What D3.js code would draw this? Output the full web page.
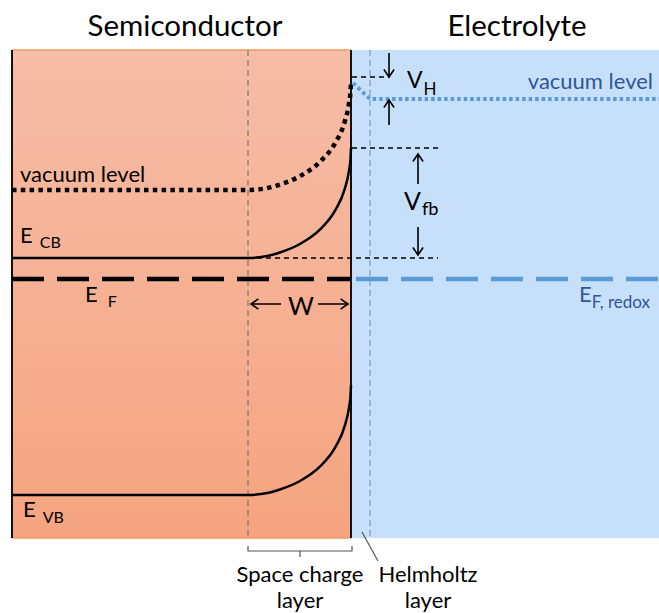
<!DOCTYPE html>
<html><head><meta charset="utf-8">
<script src="https://cdn.jsdelivr.net/npm/d3@7"></script>
<style>
html,body{margin:0;padding:0;background:#fff;}
svg{display:block;font-family:Lato,"Open Sans",sans-serif;}
</style></head>
<body>
<svg id="chart" width="659" height="613"></svg>
<script>
// ---------- data (energies in arbitrary units, distances in arbitrary units) ----------
const regions = ["Semiconductor", "Electrolyte"];
const regionExtent = [[-3.39, 0], [0, 3.08]];        // distance from interface
const depletionWidth = 1.03;                           // W
const helmholtzWidth = 0.19;
const energyRange = [0, 4.88];

const bandNames = ["vacuum", "CB", "VB"];
const bandBulk = [3.48, 2.80, 0.43];
const bandSurface = [4.57, 3.90, 1.53];

const fermiLevel = 2.59;
const electrolyteVacuum = 4.39;
const vhTop = 4.61;

// band-bending shape: fraction of bend vs fraction of W
const bendT    = [0, 0.2, 0.31, 0.5, 0.7, 0.845, 0.94, 0.98, 0.995, 1];
const bendFrac = [0, 0.02, 0.05, 0.125, 0.26, 0.43, 0.63, 0.79, 0.9, 1];

// ---------- scales ----------
const svg = d3.select("#chart");
const x = d3.scaleLinear().domain([-3.39, 3.08]).range([12, 659]);
const y = d3.scaleLinear().domain(energyRange).range([538, 50]);
const x0 = x(0);

// ---------- backgrounds ----------
const defs = svg.append("defs");
const grad = defs.append("linearGradient").attr("id","semi").attr("x1",0).attr("y1",0).attr("x2",0).attr("y2",1);
grad.append("stop").attr("offset","0%").attr("stop-color","#f6bda7");
grad.append("stop").attr("offset","100%").attr("stop-color","#f5a480");

svg.append("rect").attr("x", x(regionExtent[1][0])).attr("y", y(energyRange[1]))
  .attr("width", x(regionExtent[1][1]) - x(regionExtent[1][0])).attr("height", y(energyRange[0]) - y(energyRange[1]))
  .attr("fill", "#c6e0fb");
svg.append("rect").attr("x", x(regionExtent[0][0])).attr("y", y(energyRange[1]))
  .attr("width", x(regionExtent[0][1]) - x(regionExtent[0][0])).attr("height", y(energyRange[0]) - y(energyRange[1]))
  .attr("fill", "url(#semi)");
// orange top & bottom edges
[energyRange[1], energyRange[0]].forEach(e => {
  svg.append("line").attr("x1", x(regionExtent[0][0])).attr("x2", x0)
    .attr("y1", y(e)).attr("y2", y(e)).attr("stroke", "#f09a62").attr("stroke-width", 1.5);
});

// ---------- vertical guides ----------
svg.append("line").attr("x1", x(-depletionWidth)).attr("x2", x(-depletionWidth))
  .attr("y1", y(energyRange[1])).attr("y2", y(energyRange[0]))
  .attr("stroke", "#6a6a6a").attr("stroke-width", 1).attr("stroke-dasharray", "6 4");
svg.append("line").attr("x1", x(helmholtzWidth)).attr("x2", x(helmholtzWidth))
  .attr("y1", y(energyRange[1])).attr("y2", y(energyRange[0]))
  .attr("stroke", "#7f9cc0").attr("stroke-width", 1.2).attr("stroke-dasharray", "6 4");

// semiconductor borders
[regionExtent[0][0], 0].forEach(d => {
  svg.append("line").attr("x1", x(d)).attr("x2", x(d))
    .attr("y1", y(energyRange[1])).attr("y2", y(energyRange[0]))
    .attr("stroke", "#111").attr("stroke-width", 2);
});

// ---------- bands ----------
function bandPoints(i) {
  const pts = [[x(regionExtent[0][0]), y(bandBulk[i])]];
  bendT.forEach((t, k) => {
    const xd = -depletionWidth + t * depletionWidth;
    const e = bandBulk[i] + bendFrac[k] * (bandSurface[i] - bandBulk[i]);
    pts.push([x(xd), y(e)]);
  });
  return pts;
}
const line = d3.line().curve(d3.curveMonotoneX);

// CB & VB solid
[1, 2].forEach(i => {
  svg.append("path").attr("d", line(bandPoints(i))).attr("fill", "none")
    .attr("stroke", "#000").attr("stroke-width", 2.5);
});
// vacuum level dotted
svg.append("path").attr("d", line(bandPoints(0))).attr("fill", "none")
  .attr("stroke", "#000").attr("stroke-width", 4.5).attr("stroke-dasharray", "4.5 4.3");

// electrolyte vacuum level (blue dotted)
svg.append("path").attr("d", d3.line()([
    [x(0.02), y(bandSurface[0] - 0.02)],
    [x(helmholtzWidth), y(electrolyteVacuum)],
    [x(regionExtent[1][1]), y(electrolyteVacuum)]
  ])).attr("fill", "none").attr("stroke", "#5b9bd5").attr("stroke-width", 3.8).attr("stroke-dasharray", "3.5 3");

// Fermi levels
svg.append("line").attr("x1", x(regionExtent[0][0])).attr("x2", x0 - 1)
  .attr("y1", y(fermiLevel)).attr("y2", y(fermiLevel))
  .attr("stroke", "#000").attr("stroke-width", 4.5).attr("stroke-dasharray", "32 13");
svg.append("line").attr("x1", x0 + 5).attr("x2", x(regionExtent[1][1]))
  .attr("y1", y(fermiLevel)).attr("y2", y(fermiLevel))
  .attr("stroke", "#5b9bd5").attr("stroke-width", 4.5).attr("stroke-dasharray", "32 13");

// ---------- thin dashed reference lines ----------
const thin = (x1, x2, e) => svg.append("line").attr("x1", x1).attr("x2", x2)
  .attr("y1", y(e)).attr("y2", y(e)).attr("stroke", "#000").attr("stroke-width", 1.3).attr("stroke-dasharray", "5 4");
thin(x(-depletionWidth), 438, bandBulk[1]);
thin(x0 + 1, 440, bandSurface[1]);
thin(x0 + 1, 390, vhTop);

// ---------- arrows ----------
function arrow(x1, y1, x2, y2) {
  const a = Math.atan2(y2 - y1, x2 - x1), L = 9, w = 0.6;
  svg.append("path")
    .attr("d", `M${x1},${y1}L${x2},${y2}M${x2 - L*Math.cos(a - w)},${y2 - L*Math.sin(a - w)}L${x2},${y2}L${x2 - L*Math.cos(a + w)},${y2 - L*Math.sin(a + w)}`)
    .attr("fill", "none").attr("stroke", "#000").attr("stroke-width", 1.6);
}
// V_H
arrow(389, 53, 389, y(vhTop));
arrow(389, 125, 389, y(electrolyteVacuum) + 1);
// V_fb
arrow(418, 184, 418, y(bandSurface[1]) + 6);
arrow(418, 227, 418, y(bandBulk[1]) - 3);
// W
arrow(281, 304, x(-depletionWidth) + 3, 304);
arrow(318, 304, x0 - 3, 304);

// ---------- labels ----------
function label(xp, yp, main, sub, opts = {}) {
  const t = svg.append("text").attr("x", xp).attr("y", yp)
    .attr("font-size", opts.size || 22).attr("fill", opts.color || "#000")
    .attr("text-anchor", opts.anchor || "start");
  t.append("tspan").text(main);
  if (sub) t.append("tspan").attr("dx", opts.dx || 0).attr("dy", opts.dy || 5)
    .attr("font-size", opts.subSize || 16).text(sub);
  return t;
}
label(185, 36, regions[0], null, {size: 29.5, anchor: "middle"});
label(517, 36, regions[1], null, {size: 29.5, anchor: "middle"});

label(20, 182, "vacuum level", null, {size: 22});
label(653, 89, "vacuum level", null, {size: 22, anchor: "end", color: "#2f5597"});

label(20, 243, "E", "CB", {size: 22, dx: 7, dy: 5, subSize: 16});
label(85, 302, "E", "F", {size: 22, dx: 10, dy: 5, subSize: 16});
label(23, 517, "E", "VB", {size: 22, dx: 7, dy: 6, subSize: 16});
label(579, 302, "E", "F, redox", {size: 22, dx: 0, dy: 6, subSize: 17, color: "#2f5597"});

label(407, 88, "V", "H", {size: 23, dx: 1, dy: 7, subSize: 17});
label(404, 210, "V", "fb", {size: 25, dx: 1, dy: 5, subSize: 18});
label(301, 315, "W", null, {size: 25, anchor: "middle"});

// ---------- bottom annotations ----------
const bx1 = x(-depletionWidth), bx2 = x0 + 1, bm = (bx1 + bx2) / 2;
svg.append("path").attr("d", `M${bx1},546V551H${bx2}V546M${bm},551V557`)
  .attr("fill", "none").attr("stroke", "#555").attr("stroke-width", 1.2);
svg.append("line").attr("x1", 362).attr("y1", 532).attr("x2", 378).attr("y2", 561)
  .attr("stroke", "#555").attr("stroke-width", 1.2);

label(bm, 582, "Space charge", null, {size: 22, anchor: "middle"});
label(bm, 608, "layer", null, {size: 22, anchor: "middle"});
label(428, 582, "Helmholtz", null, {size: 22, anchor: "middle"});
label(428, 608, "layer", null, {size: 22, anchor: "middle"});
</script>
</body></html>
